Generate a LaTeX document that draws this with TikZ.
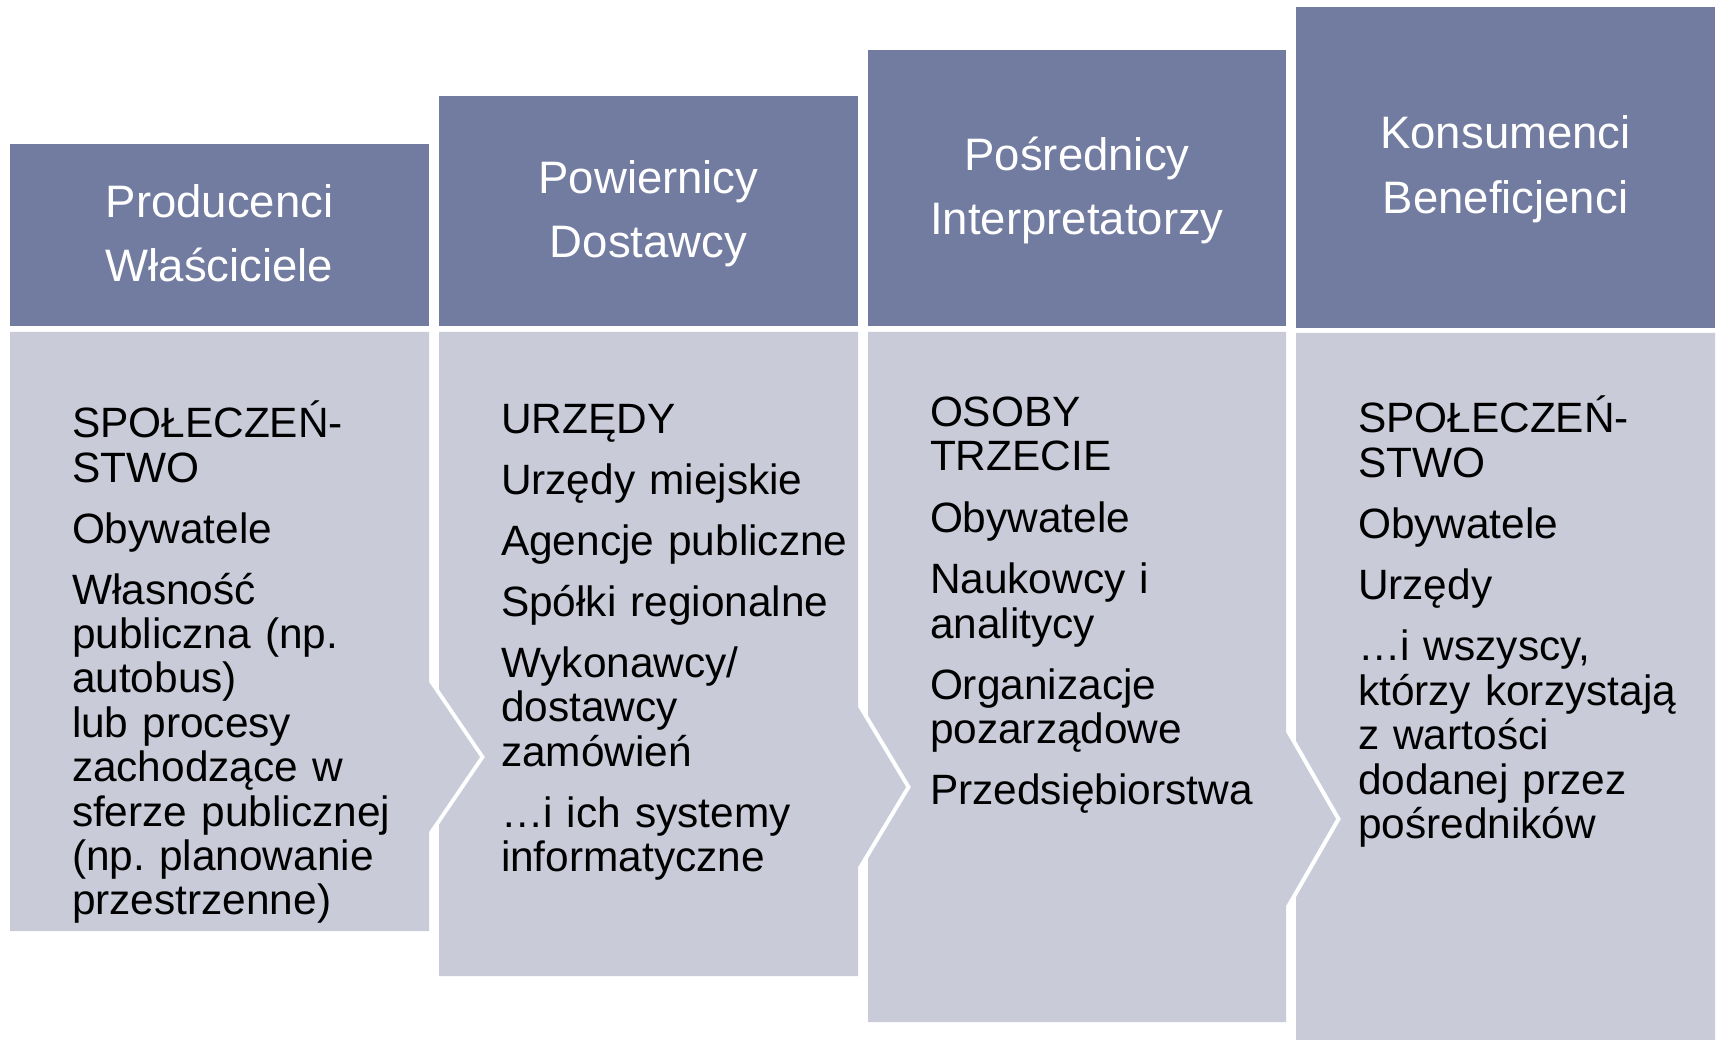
\documentclass[tikz,border=0pt]{standalone}
\usepackage{fontspec}
\setmainfont{Liberation Sans}
\definecolor{headc}{RGB}{114,124,160}
\definecolor{bodyc}{RGB}{201,203,217}
\newcommand\headfontx{\fontsize{45.5}{64.4}\selectfont\frenchspacing\lineskiplimit=-100pt\relax\lineskip=0pt\relax}
\newcommand\bodyfontx{\fontsize{42.4}{44.4}\selectfont\frenchspacing\lineskiplimit=-100pt\relax\lineskip=0pt\relax}
\tikzset{
  headbox/.style={fill=headc, draw=none},
  bodybox/.style={fill=bodyc, draw=none},
  headtext/.style={anchor=north, inner sep=0pt, outer sep=0pt, text width=400pt,
    align=center, text=white, font=\headfontx},
  bodytext/.style={anchor=north west, inner sep=0pt, outer sep=0pt, text width=390pt,
    align=left, text=black, font=\bodyfontx},
}
\begin{document}
\begin{tikzpicture}[x=1pt, y=-1pt]
\useasboundingbox[fill=white] (0,0) rectangle (1719,1040);

% headers
\fill[headbox] (10,144) rectangle (429,326);
\fill[headbox] (439,96.5) rectangle (858,326);
\fill[headbox] (868,50.5) rectangle (1286,326);
\fill[headbox] (1296,7) rectangle (1715,328);

% bodies
\fill[bodybox] (10,332) -- (429,332) -- (429,682) -- (480,757) -- (429,832)
  -- (429,931) -- (10,931) -- cycle;
\fill[bodybox] (439,332) -- (858,332) -- (858,707) -- (906,787) -- (858,867)
  -- (858,976) -- (439,976) -- (439,824.6) -- (485,757) -- (439,689.4) -- cycle;
\fill[bodybox] (868,332) -- (1286,332) -- (1286,732) -- (1336,819) -- (1286,906)
  -- (1286,1022) -- (868,1022) -- (868,858.7) -- (911,787) -- (868,715.3) -- cycle;
\fill[bodybox] (1296,333) -- (1715,333) -- (1715,1040) -- (1296,1040)
  -- (1296,897.3) -- (1341,819) -- (1296,740.7) -- cycle;

% header texts
\node[headtext] (h1) at (219.5,167.3) {\rule{0pt}{50pt}Producenci\\Właściciele};
\node[headtext] (h2) at (648.5,143.5) {\rule{0pt}{50pt}Powiernicy\\Dostawcy};
\node[headtext] (h3) at (1077,120.5) {\rule{0pt}{50pt}Pośrednicy\\Interpretatorzy};
\node[headtext] (h4) at (1505.5,99) {\rule{0pt}{50pt}Konsumenci\\Beneficjenci};

% body texts
\node[bodytext] (b1) at (72,387.7) {\rule{0pt}{50pt}SPOŁECZEŃ-\\STWO\\[16.6pt]
  Obywatele\\[16.6pt]
  Własność\\publiczna (np.\\autobus)\\lub procesy\\zachodzące w\\sferze publicznej\\(np. planowanie\\przestrzenne)};
\node[bodytext] (b2) at (501,383.3) {\rule{0pt}{50pt}URZĘDY\\[16.6pt]
  Urzędy miejskie\\[16.6pt]
  Agencje publiczne\\[16.6pt]
  Spółki regionalne\\[16.6pt]
  Wykonawcy/\\dostawcy\\zamówień\\[16.6pt]
  …i ich systemy\\informatyczne};
\node[bodytext] (b3) at (930,376.5) {\rule{0pt}{50pt}OSOBY\\TRZECIE\\[17.5pt]
  Obywatele\\[16.6pt]
  Naukowcy i\\analitycy\\[16.6pt]
  Organizacje\\pozarządowe\\[16.6pt]
  Przedsiębiorstwa};
\node[bodytext] (b4) at (1358,382.7) {\rule{0pt}{50pt}SPOŁECZEŃ-\\STWO\\[17pt]
  Obywatele\\[16.8pt]
  Urzędy\\[16.8pt]
  …i wszyscy,\\którzy korzystają\\z wartości\\dodanej przez\\pośredników};
\end{tikzpicture}
\end{document}
